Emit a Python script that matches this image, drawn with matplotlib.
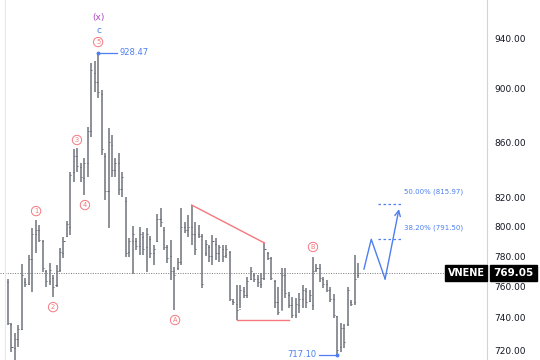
import matplotlib
matplotlib.use("Agg")
import matplotlib.pyplot as plt

# OHLC bars (price, log scale)
highs = [765.1, 736.8, 730.5, 735.5, 774.9, 765.7, 780.9, 799.1, 804.6, 801.2,
         791.0, 771.0, 775.6, 767.7, 774.2, 785.6, 793.0, 803.9, 838.3, 854.9,
         855.6, 844.8, 848.4, 871.2, 920.2, 921.8, 928.47, 899.2, 852.0, 870.4,
         865.3, 848.4, 852.0, 838.3, 820.6, 792.3, 800.5, 792.3, 799.8, 796.4,
         799.1, 793.7, 787.6, 808.7, 812.9, 799.8, 787.6, 791.0, 772.9, 778.9,
         812.9, 803.2, 808.1, 815.0, 803.2, 801.2, 795.0, 791.0, 787.6, 794.4,
         792.3, 787.6, 787.6, 787.6, 783.6, 752.1, 761.2, 761.2, 759.8, 766.4,
         772.9, 769.0, 767.7, 769.0, 789.0, 782.9, 779.5, 764.4, 759.8, 772.3,
         772.3, 756.6, 753.3, 752.7, 756.0, 761.2, 759.2, 757.9, 779.5, 774.9,
         774.9, 766.4, 764.4, 759.8, 755.3, 741.3, 736.8, 736.2, 759.8, 751.4,
         780.9, 775.6]
lows = [735.5, 718.8, 712.7, 721.9, 732.4, 759.8, 761.2, 756.6, 782.2, 789.6,
        769.7, 759.8, 761.2, 753.3, 759.8, 769.7, 778.9, 793.0, 794.4, 831.2,
        838.3, 831.2, 822.0, 834.8, 863.8, 897.6, 893.1, 850.6, 818.5, 799.1,
        834.8, 834.8, 822.0, 820.6, 779.5, 779.5, 768.3, 784.3, 780.9, 780.9,
        769.7, 778.9, 774.2, 789.6, 799.8, 784.3, 775.6, 764.4, 745.0, 771.0,
        774.2, 795.7, 793.0, 787.6, 780.9, 792.3, 759.2, 780.2, 776.2, 774.2,
        777.5, 776.2, 776.2, 778.9, 750.8, 748.2, 738.7, 746.3, 752.7, 752.7,
        764.4, 763.1, 759.8, 759.2, 764.4, 777.5, 764.4, 746.3, 741.9, 745.0,
        752.7, 746.3, 740.0, 740.0, 743.1, 746.3, 746.3, 750.2, 745.0, 769.7,
        763.1, 759.2, 756.6, 750.2, 740.0, 717.1, 718.8, 721.2, 734.9, 747.6,
        748.2, 765.7]
opens = [763, 736, 721, 727, 733, 763, 762, 778, 795, 798,
         790, 770, 764, 766, 761, 771, 782, 794, 800, 838,
         850, 842, 834, 845, 868, 912, 905, 896, 850, 825,
         858, 840, 845, 826, 818, 783, 790, 790, 787, 793,
         786, 792, 782, 790, 805, 798, 786, 780, 770, 772,
         776, 800, 798, 800, 795, 795, 794, 782, 786, 780,
         788, 782, 785, 781, 783, 751, 749, 746, 757, 755,
         765, 768, 765, 762, 766, 782, 779, 764, 750, 745,
         768, 755, 748, 742, 748, 752, 757, 751, 748, 771,
         772, 765, 762, 758, 752, 741, 722, 734, 736, 750,
         750, 768]
closes = [737, 722, 727, 733, 768, 762, 778, 795, 798, 791,
          772, 764, 771, 760, 770, 783, 790, 802, 836, 850,
          843, 835, 845, 868, 915, 905, 898, 855, 825, 860,
          840, 845, 826, 835, 782, 790, 795, 787, 795, 785,
          795, 782, 785, 805, 803, 786, 779, 770, 768, 776,
          800, 798, 800, 795, 785, 794, 762, 788, 780, 790,
          782, 786, 780, 785, 752, 750, 745, 758, 755, 764,
          770, 765, 763, 766, 785, 779, 766, 750, 744, 768,
          756, 748, 742, 749, 752, 758, 750, 755, 770, 772,
          766, 762, 758, 752, 742, 720, 734, 725, 758, 749,
          765, 769.05]

last_price = 769.05
price_ticks = [720, 740, 760, 780, 800, 820, 860, 900, 940]

# projected path and fib targets
proj_x = [102.7, 104.8, 108.8, 112.8]
proj_y = [771.6, 791.5, 765.1, 812.2]
fib_levels = [791.50, 815.97]
fib_labels = ["38.20% (791.50)", "50.00% (815.97)"]

# wave labels: (text, bar index, price)
wave_labels = [("1", 8.1, 810.8), ("2", 13.0, 746.9), ("3", 19.9, 861.6),
               ("4", 22.2, 815.0), ("5", 26.0, 936.8), ("A", 48.2, 738.7),
               ("B", 88.0, 786.3)]

bar_color = "#8e9199"
tick_color = "#5d6068"
red = "#f5787f"
blue = "#4d7ff0"

fig = plt.figure(figsize=(5.4, 3.6), dpi=100)
ax = fig.add_axes([0, 0, 487 / 540, 1])

n = len(highs)
idx = list(range(n))
ax.vlines(idx, lows, highs, color=bar_color, linewidth=1.4)
ax.hlines(opens, [i - 0.3 for i in idx], idx, color=tick_color, linewidth=0.7)
ax.hlines(closes, idx, [i + 0.3 for i in idx], color=tick_color, linewidth=0.7)

ax.set_yscale("log")
ax.set_xlim(-2.31, 138.2)
ax.set_ylim(713.9, 971.1)

# last price dotted line
ax.axhline(last_price, color="#777777", linestyle=(0, (1, 1.5)), linewidth=0.7)
ax.axvline(-0.9, color="#e6e8ee", linewidth=0.8)

# red trend lines
ax.plot([53, 74], [815.0, 789.0], color=red, linewidth=1.0)
ax.plot([66, 81], [738.7, 738.7], color=red, linewidth=1.0)

# projection
ax.annotate("", xy=(proj_x[-1], proj_y[-1]), xytext=(proj_x[-2], proj_y[-2]),
            arrowprops=dict(arrowstyle="->", color=blue, lw=1.0, shrinkA=0, shrinkB=0))
ax.plot(proj_x[:-1], proj_y[:-1], color=blue, linewidth=1.0)
for lvl, lab in zip(fib_levels, fib_labels):
    ax.plot([106.8, 113.7], [lvl, lvl], color=blue, linewidth=0.9, linestyle=(0, (2, 2)))
    ax.text(114.3, lvl * 1.007, lab, color=blue, fontsize=5, ha="left", va="bottom")

# wave labels
for txt, x, y in wave_labels:
    ax.text(x, y, txt, color=red, fontsize=4.8, ha="center", va="center",
            bbox=dict(boxstyle="circle,pad=0.25", fc="white", ec=red, lw=0.7))
ax.text(26.2, 957.0, "(x)", color="#ab47bc", fontsize=6.5, ha="center", va="center")
ax.text(26.2, 946.5, "c", color=blue, fontsize=6.5, ha="center", va="center")

# price markers
ax.plot([26, 31.5], [928.47, 928.47], color=blue, linewidth=0.9)
ax.plot([26], [928.47], "o", color=blue, markersize=1.8)
ax.text(32.3, 928.47, "928.47", color=blue, fontsize=6, ha="left", va="center")
ax.plot([89.8, 95], [717.1, 717.1], color=blue, linewidth=0.9)
ax.plot([95], [717.1], "o", color=blue, markersize=1.8)
ax.text(88.9, 717.1, "717.10", color=blue, fontsize=6, ha="right", va="center")

# right price axis
ax.yaxis.tick_right()
ax.set_yticks(price_ticks)
ax.set_yticklabels([f"{t:.2f}" for t in price_ticks])
ax.yaxis.set_minor_locator(matplotlib.ticker.NullLocator())
ax.tick_params(axis="y", length=0, pad=5, labelsize=6.5, labelcolor="#131722")
ax.set_xticks([])
for s in ["top", "bottom", "left"]:
    ax.spines[s].set_visible(False)
ax.spines["right"].set_color("#d1d4dc")
ax.spines["right"].set_linewidth(0.8)

# last price badge
tr = matplotlib.transforms.blended_transform_factory(ax.transAxes, ax.transData)
ax.text(0.995, last_price, "VNENE", transform=tr, color="white", fontsize=7,
        fontweight="bold", ha="right", va="center", clip_on=False,
        bbox=dict(boxstyle="square,pad=0.3", fc="black", ec="black"))
ax.text(1.013, last_price, "769.05", transform=tr, color="white", fontsize=7.5,
        fontweight="bold", ha="left", va="center", clip_on=False,
        bbox=dict(boxstyle="square,pad=0.3", fc="black", ec="black"))

fig.savefig("out.png", dpi=100, facecolor="white")
